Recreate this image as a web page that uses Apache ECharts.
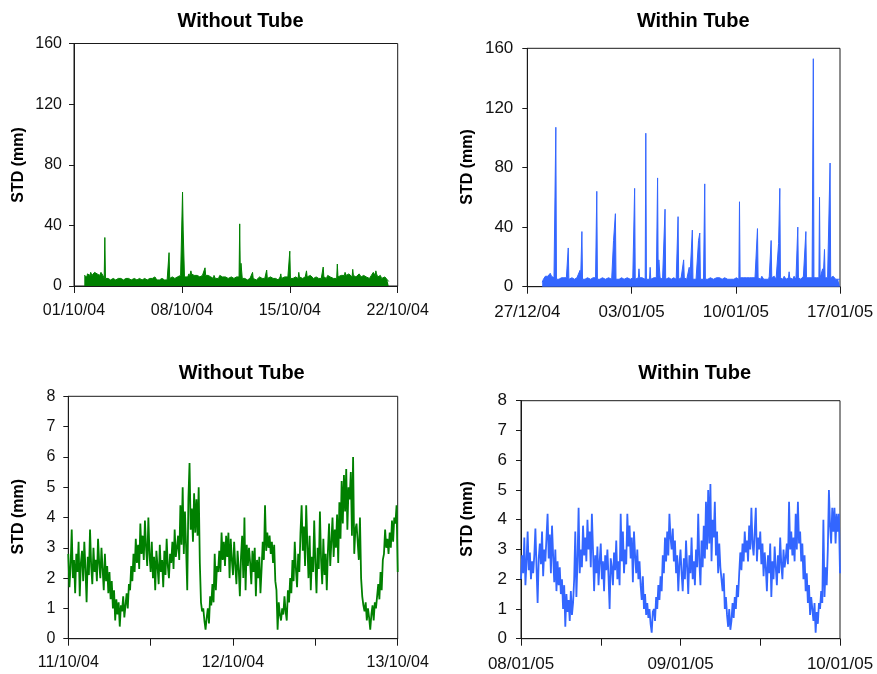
<!DOCTYPE html>
<html>
<head>
<meta charset="utf-8">
<script src="https://cdn.jsdelivr.net/npm/echarts@6/dist/echarts.min.js"></script>
<style>
  html, body { margin: 0; padding: 0; background: #ffffff; }
  #chart { width: 877px; height: 674px; }
</style>
</head>
<body>
<div id="chart"></div>
<script>
// ---- Three-week records, one value per hour (STD, mm) ----
// Without tube: first value at 01/10/04 16:00, one row per day
const withoutTubeLongStartDay = 16 / 24;
const withoutTubeLong = [
  7, 6, 8, 7, 6, 8, 9, 8,
  8, 7, 9, 8, 7, 6, 7, 8, 9, 8, 10, 9, 8, 7, 8, 9, 7, 6, 9, 8, 8, 7, 7, 5,
  32, 5, 5, 4, 4, 5, 4, 4, 5, 4, 5, 4, 4, 5, 4, 4, 5, 4, 5, 4, 4, 5, 4, 4,
  4, 5, 4, 4, 5, 4, 5, 4, 4, 5, 4, 4, 4, 5, 6, 5, 5, 4, 4, 5, 4, 4, 5, 4,
  4, 5, 4, 4, 5, 4, 5, 4, 4, 5, 4, 4, 5, 4, 5, 5, 4, 4, 4, 5, 4, 4, 5, 4,
  5, 4, 5, 5, 4, 5, 6, 5, 5, 4, 5, 5, 5, 4, 5, 5, 4, 5, 6, 5, 5, 4, 5, 5,
  5, 4, 5, 5, 22, 5, 6, 5, 5, 6, 5, 5, 6, 5, 6, 5, 5, 6, 5, 5, 6, 6, 7, 6,
  6, 62, 37, 36, 6, 6, 6, 7, 7, 6, 7, 8, 6, 7, 10, 8, 7, 8, 8, 7, 6, 7, 6, 6,
  7, 6, 8, 7, 6, 7, 7, 6, 7, 8, 6, 7, 12, 7, 7, 6, 6, 7, 8, 7, 7, 6, 6, 7,
  6, 5, 7, 6, 5, 6, 5, 6, 6, 5, 6, 7, 7, 6, 7, 6, 5, 6, 5, 5, 6, 5, 6, 6,
  5, 6, 6, 5, 5, 6, 5, 5, 6, 5, 6, 5, 5, 6, 5, 5, 5, 6, 41, 6, 15, 14, 5, 5,
  5, 4, 5, 5, 4, 5, 4, 4, 5, 4, 5, 5, 4, 5, 9, 5, 5, 4, 5, 5, 4, 5, 4, 5,
  5, 6, 5, 5, 6, 5, 6, 5, 4, 5, 4, 5, 10.5, 5, 5, 6, 5, 5, 6, 5, 5, 6, 5, 5,
  5, 4, 5, 5, 4, 5, 4, 5, 5, 6, 8, 5, 5, 6, 5, 5, 6, 5, 6, 5, 5, 6, 5, 5,
  23, 5, 5, 6, 6, 5, 6, 5, 5, 6, 5, 5, 6, 5, 9, 6, 6, 5, 6, 6, 5, 6, 5, 5,
  6, 5, 10, 6, 6, 5, 6, 6, 7, 6, 7, 6, 6, 5, 6, 6, 5, 6, 5, 6, 6, 5, 6, 6,
  6, 5, 6, 6, 12.5, 6, 5, 6, 6, 5, 6, 7, 7, 6, 7, 6, 6, 5, 6, 6, 5, 6, 5, 6,
  6, 5, 14.5, 6, 6, 7, 6, 6, 7, 6, 7, 8, 8, 7, 9, 8, 7, 6, 8, 7, 8, 9, 9, 7,
  7, 6, 11, 7, 7, 6, 7, 6, 6, 7, 6, 6, 8, 7, 8, 6, 6, 7, 6, 7, 7, 6, 7, 6,
  6, 5, 6, 6, 5, 6, 5, 7, 7, 8, 9, 8, 8, 7, 10, 8, 7, 6, 7, 6, 6, 7, 6, 5,
  5, 6, 5, 5, 6, 5, 6, 5, 4, 4, 3
];
// Within tube: first value at 28/12/04 00:00, one row per day
const withinTubeLongStartDay = 1;
const withinTubeLong = [
  3, 4, 5, 6, 6, 7, 7, 6, 6, 7, 6, 8, 8, 9, 9, 7, 7, 6, 7, 6, 6, 5, 107, 5,
  5, 6, 6, 5, 5, 6, 5, 6, 6, 5, 7, 6, 5, 6, 5, 6, 6, 5, 26, 5, 5, 6, 5, 5,
  6, 5, 6, 6, 5, 6, 5, 5, 6, 5, 6, 7, 7, 11, 6, 5, 37, 5, 5, 6, 6, 5, 6, 6,
  5, 6, 5, 5, 6, 6, 5, 6, 5, 5, 6, 6, 6, 5, 6, 6, 64, 5, 5, 6, 6, 5, 6, 6,
  5, 6, 5, 5, 6, 6, 5, 5, 6, 5, 5, 6, 6, 5, 6, 6, 5, 5, 6, 31, 31, 30, 49, 5,
  6, 5, 6, 6, 5, 5, 6, 5, 6, 6, 5, 6, 5, 5, 6, 5, 5, 6, 6, 5, 6, 6, 5, 5,
  6, 5, 6, 6, 5, 66, 5, 6, 6, 5, 5, 6, 12, 6, 6, 5, 5, 6, 5, 5, 6, 6, 5, 103,
  5, 6, 5, 6, 6, 5, 13, 5, 5, 6, 5, 5, 6, 6, 6, 5, 6, 5, 73, 5, 18, 17, 6, 5,
  5, 6, 5, 5, 6, 5, 52, 5, 6, 5, 6, 6, 6, 5, 5, 6, 5, 5, 6, 5, 6, 6, 5, 5,
  5, 6, 6, 47, 5, 6, 5, 5, 6, 5, 6, 5, 18, 6, 5, 6, 6, 5, 6, 6, 5, 13, 5, 6,
  6, 5, 38, 5, 6, 5, 6, 6, 5, 6, 6, 5, 31, 30, 36, 5, 6, 5, 6, 6, 5, 6, 69, 5,
  5, 6, 6, 5, 6, 5, 5, 6, 6, 5, 6, 6, 5, 6, 6, 5, 5, 6, 6, 5, 6, 6, 6, 5,
  5, 6, 5, 5, 6, 6, 6, 5, 5, 6, 6, 5, 6, 5, 6, 6, 5, 6, 5, 6, 6, 5, 5, 6,
  5, 6, 6, 5, 6, 5, 57, 6, 5, 5, 6, 6, 6, 5, 6, 5, 5, 6, 6, 5, 6, 6, 6, 5,
  6, 5, 6, 6, 6, 5, 5, 6, 6, 5, 6, 39, 6, 5, 6, 6, 5, 6, 7, 6, 6, 5, 6, 6,
  6, 5, 6, 6, 6, 5, 7, 6, 6, 31, 6, 6, 6, 5, 7, 6, 6, 5, 6, 6, 6, 29, 28, 66,
  6, 5, 6, 6, 5, 6, 7, 6, 6, 5, 6, 6, 5, 6, 10, 6, 6, 5, 6, 6, 5, 6, 7, 6,
  6, 5, 6, 6, 40, 6, 7, 6, 6, 5, 6, 6, 6, 7, 7, 6, 6, 37, 6, 6, 6, 5, 6, 6,
  6, 7, 7, 6, 6, 153, 6, 6, 6, 5, 6, 6, 6, 7, 6, 60, 6, 6, 7, 6, 12, 6, 6, 25,
  6, 5, 6, 6, 6, 7, 7, 6, 83, 6, 6, 5, 6, 7, 7, 6, 6, 5, 6, 6, 6, 5, 6, 6,
  5
];
const longStepDays = 1 / 24;

// ---- Two-day close-ups, one value every 10 minutes (STD, mm) ----
// Without tube: 11/10/04 00:00 to 13/10/04 00:00, one row per hour
const withoutTubeShort = [
  2.8, 1.7, 2.4, 3.6, 2.0, 2.6,
  1.5, 2.8, 2.2, 3.2, 1.4, 2.5,
  2.9, 1.9, 3.2, 2.3, 1.2, 2.7,
  2.1, 3.6, 2.4, 1.8, 3.0, 2.2,
  2.6, 1.9, 3.3, 2.5, 2.0, 3.0,
  2.3, 1.6, 2.8, 1.9, 2.4, 1.5,
  2.2, 1.3, 1.9, 1.0, 1.6, 0.6,
  1.3, 0.8, 1.2, 0.4, 1.1, 0.9,
  1.4, 0.7, 1.1, 1.5, 1.0, 1.8,
  1.6, 2.4, 1.9, 2.8, 2.2, 3.3,
  2.5, 3.1, 2.3, 3.8, 2.8, 3.4,
  2.6, 3.9, 3.0, 2.4, 4.0, 2.8,
  2.2, 3.2, 2.0, 2.7, 1.6, 2.9,
  2.4, 1.8, 3.1, 2.2, 2.6, 1.7,
  2.9, 2.1, 3.3, 2.4, 2.0, 2.8,
  2.5, 3.2, 2.3, 3.6, 2.7, 3.0,
  3.4, 2.6, 4.4, 3.1, 5.0, 2.8,
  4.2, 3.0, 1.6, 4.6, 5.8, 3.6,
  4.3, 3.2, 4.8, 3.5, 4.6, 3.4,
  5.0, 2.5, 1.2, 0.9, 1.0, 0.6,
  0.3, 0.7, 1.0, 0.5, 1.4, 1.1,
  1.8, 1.2, 2.8, 1.6, 2.4, 2.2,
  2.9, 2.2, 3.5, 2.6, 3.2, 2.4,
  3.4, 2.7, 3.5, 2.0, 3.3, 2.6,
  2.1, 3.2, 2.4, 1.8, 2.9, 2.3,
  1.4, 2.7, 3.4, 2.0, 4.0, 1.6,
  3.1, 2.4, 3.0, 2.5, 1.8, 2.9,
  2.2, 3.0, 1.4, 2.6, 2.0, 2.7,
  1.5, 2.3, 3.2, 2.6, 4.4, 2.9,
  3.5, 3.0, 3.4, 2.8, 3.2, 2.5,
  3.1, 1.9, 1.6, 0.3, 1.2, 0.8,
  0.6, 1.0, 0.8, 1.4, 0.9, 0.6,
  1.6, 1.2, 2.0, 1.5, 2.6, 1.9,
  3.2, 2.3, 1.7, 2.8, 2.2, 3.5,
  4.4, 2.9, 3.7, 2.4, 4.4, 3.1,
  2.0, 3.4, 1.6, 2.7, 2.2, 3.9,
  2.5, 1.5, 3.0, 2.3, 4.2, 2.6,
  1.8, 3.3, 2.1, 2.8, 1.6, 2.9,
  3.8, 2.4, 3.2, 4.0, 2.7, 3.6,
  3.0, 4.1, 2.5, 4.5, 3.3, 5.2,
  3.8, 5.4, 4.2, 5.6, 3.6, 5.0,
  4.6, 5.5, 3.4, 6.0, 2.8, 3.6,
  3.8, 3.2, 2.6, 4.0, 2.0, 1.4,
  1.1, 0.9, 1.2, 0.6, 1.0, 0.7,
  0.3, 0.8, 1.1, 0.6, 1.2, 1.0,
  1.4, 1.8, 1.3, 2.2, 1.6, 2.6,
  2.8, 3.6, 3.0, 3.3, 2.8, 3.5,
  3.0, 3.9, 3.2, 4.0, 3.8, 4.4,
  2.2
];
// Within tube: 08/01/05 00:00 to 10/01/05 00:00, one row per hour
const withinTubeShort = [
  2.0, 2.8, 2.2, 3.4, 1.8, 2.6,
  3.6, 2.3, 2.9, 2.0, 2.6, 2.2,
  2.8, 3.7, 2.4, 1.2, 2.7, 3.2,
  2.5, 3.6, 2.1, 3.0, 2.6, 3.4,
  4.2, 2.7, 3.5, 2.2, 3.8, 2.8,
  1.9, 3.0, 1.6, 2.6, 1.8, 2.4,
  1.5, 2.0, 1.0, 1.8, 0.4, 1.5,
  0.9, 1.3, 0.6, 1.6, 0.8, 1.2,
  2.0, 3.6, 1.4, 2.6, 4.4, 2.2,
  3.0, 2.4, 3.8, 2.8, 3.4, 2.6,
  4.0, 3.0, 3.6, 2.4, 4.2, 3.0,
  1.6, 2.8, 2.2, 3.1, 1.8, 2.6,
  3.2, 2.0, 2.6, 1.6, 2.8, 2.3,
  3.0, 2.1, 1.0, 2.7, 2.4, 1.8,
  2.9, 2.3, 3.3, 2.0, 2.6, 1.8,
  4.2, 2.6, 3.6, 2.2, 3.0, 2.5,
  4.2, 3.1, 3.8, 2.7, 3.4, 1.9,
  3.6, 2.8, 2.2, 3.0, 2.0, 2.6,
  1.8, 1.3, 2.1, 1.0, 1.5, 0.8,
  1.2, 0.7, 1.0, 0.5, 0.2, 0.9,
  1.0, 0.6, 1.4, 1.0, 1.8, 1.3,
  2.1, 1.6, 2.8, 2.2, 3.4, 2.6,
  3.6, 2.8, 4.2, 3.4, 3.0, 3.7,
  2.6, 3.3, 2.2, 2.8, 1.6, 2.5,
  3.0, 2.2, 1.6, 2.7, 2.0, 3.3,
  2.4, 1.5, 2.8, 2.2, 3.4, 2.0,
  2.6, 1.8, 3.0, 2.4, 4.2, 2.6,
  1.8, 3.3, 2.4, 3.8, 2.7, 4.6,
  3.0, 5.0, 3.2, 5.2, 2.6, 4.0,
  3.4, 4.6, 2.8, 3.6, 2.2, 3.2,
  2.4, 2.0, 1.6, 2.2, 1.0, 1.4,
  0.8, 0.4, 1.0, 0.3, 0.6, 1.2,
  0.7, 1.4, 1.0, 1.8, 1.4, 2.2,
  2.9, 2.3, 3.2, 2.6, 3.6, 2.9,
  3.3, 2.6, 3.8, 3.0, 4.4, 3.2,
  2.8, 3.6, 4.4, 2.6, 3.4, 3.0,
  3.6, 2.5, 3.2, 2.1, 2.9, 2.4,
  1.6, 2.8, 2.2, 3.2, 1.4, 2.6,
  2.0, 3.1, 2.4, 1.8, 2.8, 2.2,
  3.4, 2.5, 2.0, 3.0, 2.4, 2.7,
  3.2, 2.5, 4.6, 3.0, 3.6, 2.8,
  3.4, 2.6, 4.2, 3.0, 4.6, 3.2,
  3.6, 2.6, 3.2, 2.0, 2.8, 1.6,
  2.2, 1.2, 1.8, 0.8, 1.4, 1.0,
  0.6, 1.2, 0.2, 0.9, 0.5, 1.2,
  1.0, 1.6, 1.2, 4.0, 1.4, 2.4,
  1.8, 3.0, 5.0, 3.8, 3.2, 4.4,
  3.6, 4.4, 3.2, 4.2, 3.6, 4.2,
  2.2
];
const shortStepHours = 1 / 6;

// ---- Axis tick labels ----
const withoutTubeLongDates = ['01/10/04', '08/10/04', '15/10/04', '22/10/04'];
const withinTubeLongDates = ['27/12/04', '03/01/05', '10/01/05', '17/01/05'];
const withoutTubeShortDates = ['11/10/04', '12/10/04', '13/10/04'];
const withinTubeShortDates = ['08/01/05', '09/01/05', '10/01/05'];
const longYTicks = [0, 40, 80, 120, 160];
const shortYTicks = [0, 1, 2, 3, 4, 5, 6, 7, 8];

const titles = ['Without Tube', 'Within Tube', 'Without Tube', 'Within Tube'];
const yName = 'STD (mm)';

const GREEN = '#008000';
const BLUE = '#3366ff';
const INK = '#1a1a1a';
const FONT = '"Liberation Sans", Arial, sans-serif';

function toPairs(values, start, step) {
  return values.map((v, i) => [start + i * step, v]);
}

const panels = [
  {
    grid: { left: 74, top: 43.5, width: 323.7, height: 242.5 },
    xMax: 21, xInterval: 7, xLabelEvery: 7, xLabels: withoutTubeLongDates,
    yTicks: longYTicks, data: toPairs(withoutTubeLong, withoutTubeLongStartDay, longStepDays),
    color: GREEN, dense: true, font: 16, yMargin: 12, xMargin: 17,
    titlePos: [240.5, 21], namePos: [19, 165]
  },
  {
    grid: { left: 527.3, top: 48.3, width: 312.7, height: 238.4 },
    xMax: 21, xInterval: 7, xLabelEvery: 7, xLabels: withinTubeLongDates,
    yTicks: longYTicks, data: toPairs(withinTubeLong, withinTubeLongStartDay, longStepDays),
    color: BLUE, dense: true, font: 17, yMargin: 14, xMargin: 17,
    titlePos: [693.3, 21], namePos: [467.5, 167]
  },
  {
    grid: { left: 68.3, top: 396.3, width: 329.4, height: 242.4 },
    xMax: 48, xInterval: 12, xLabelEvery: 24, xLabels: withoutTubeShortDates,
    yTicks: shortYTicks, data: toPairs(withoutTubeShort, 0, shortStepHours),
    color: GREEN, dense: false, font: 16, yMargin: 13, xMargin: 16,
    titlePos: [241.7, 373], namePos: [19, 516.7]
  },
  {
    grid: { left: 521, top: 400.7, width: 319, height: 238 },
    xMax: 48, xInterval: 12, xLabelEvery: 24, xLabels: withinTubeShortDates,
    yTicks: shortYTicks, data: toPairs(withinTubeShort, 0, shortStepHours),
    color: BLUE, dense: false, font: 17, yMargin: 14, xMargin: 17,
    titlePos: [694.7, 373], namePos: [468, 519]
  }
];

const option = {
  animation: false,
  backgroundColor: '#ffffff',
  grid: panels.map(p => Object.assign({
    show: true, borderColor: INK, borderWidth: 1, backgroundColor: 'transparent',
    containLabel: false
  }, p.grid)),
  xAxis: panels.map((p, i) => ({
    gridIndex: i,
    type: 'value',
    min: 0,
    max: p.xMax,
    interval: p.xInterval,
    axisLine: { show: true, onZero: false, lineStyle: { color: INK, width: 1 } },
    axisTick: { show: true, inside: false, length: 7, lineStyle: { color: INK, width: 1 } },
    splitLine: { show: false },
    axisLabel: {
      margin: p.xMargin,
      fontSize: p.font,
      fontFamily: FONT,
      color: '#111',
      showMinLabel: true,
      showMaxLabel: true,
      formatter: v => {
        const k = Math.round(v / p.xLabelEvery);
        return Math.abs(k * p.xLabelEvery - v) < 1e-6 ? (p.xLabels[k] || '') : '';
      }
    }
  })),
  yAxis: panels.map((p, i) => ({
    gridIndex: i,
    type: 'value',
    min: p.yTicks[0],
    max: p.yTicks[p.yTicks.length - 1],
    interval: p.yTicks[1] - p.yTicks[0],
    axisLine: { show: true, onZero: false, lineStyle: { color: INK, width: 1 } },
    axisTick: { show: true, inside: false, length: 5, lineStyle: { color: INK, width: 1 } },
    splitLine: { show: false },
    axisLabel: {
      margin: p.yMargin,
      fontSize: p.font,
      fontFamily: FONT,
      color: '#111'
    }
  })),
  series: panels.map((p, i) => ({
    type: 'line',
    xAxisIndex: i,
    yAxisIndex: i,
    data: p.data,
    showSymbol: false,
    symbol: 'none',
    silent: true,
    clip: true,
    lineStyle: { color: p.color, width: p.dense ? 1 : 1.8 },
    areaStyle: p.dense ? { color: p.color, opacity: 1 } : undefined
  })),
  graphic: panels.flatMap((p, i) => [
    {
      type: 'text',
      x: p.titlePos[0],
      y: p.titlePos[1],
      style: {
        text: titles[i],
        fontSize: 20,
        fontWeight: 'bold',
        fontFamily: FONT,
        fill: '#000',
        align: 'center',
        verticalAlign: 'middle'
      }
    },
    {
      type: 'text',
      x: p.namePos[0],
      y: p.namePos[1],
      rotation: Math.PI / 2,
      style: {
        text: yName,
        fontSize: 16,
        fontWeight: 'bold',
        fontFamily: FONT,
        fill: '#000',
        align: 'center',
        verticalAlign: 'middle'
      }
    }
  ])
};

const chart = echarts.init(document.getElementById('chart'), null, { renderer: 'canvas' });
chart.setOption(option);
</script>
</body>
</html>
